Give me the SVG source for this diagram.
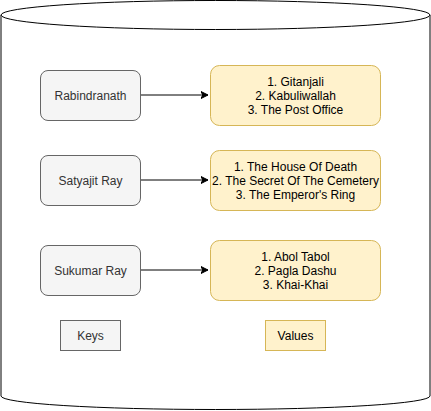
<svg xmlns="http://www.w3.org/2000/svg" width="431" height="411" viewBox="0 0 431 411">
<defs>
<style>
.cyl{fill:#fff;stroke:#000;stroke-width:1}
.key{fill:#f5f5f5;stroke:#666;stroke-width:1}
.val{fill:#fff2cc;stroke:#d6b656;stroke-width:1}
text{font-family:"Liberation Sans",Arial,sans-serif;font-size:12px;text-anchor:middle}
.kt{fill:#333}
.vt{fill:#000}
.edge{stroke:#000;stroke-width:1;fill:none}
</style>
<marker id="arr" markerWidth="10" markerHeight="10" refX="7" refY="4" orient="auto" markerUnits="userSpaceOnUse">
<path d="M0,0.5 L7,4 L0,7.5 L1.75,4 Z" fill="#000" stroke="#000" stroke-width="1"/>
</marker>
</defs>
<g id="cylinder">
<path class="cyl" d="M1,15 A214.5,14.5 0 0 1 430,15 L430,396 A214.5,13.5 0 0 1 1,396 Z"/>
<path class="cyl" fill="none" d="M1,15 A214.5,14.5 0 0 0 430,15"/>
</g>
<g id="connectors">
<path class="edge" d="M140,95 L208,95" marker-end="url(#arr)"/>
<path class="edge" d="M140,180 L208,180" marker-end="url(#arr)"/>
<path class="edge" d="M140,270 L208,270" marker-end="url(#arr)"/>
</g>
<g id="rabindranath">
<rect class="key" x="40.5" y="70.5" width="100" height="50" rx="7.5"/>
<text class="kt" x="90.5" y="99.5">Rabindranath</text>
</g>
<g id="rabindranath-values">
<rect class="val" x="210.5" y="65.5" width="170" height="60" rx="9"/>
<text class="vt" x="295.5" y="85.5">1. Gitanjali</text>
<text class="vt" x="295.5" y="99.5">2. Kabuliwallah</text>
<text class="vt" x="295.5" y="113.5">3. The Post Office</text>
</g>
<g id="satyajit">
<rect class="key" x="40.5" y="155.5" width="100" height="50" rx="7.5"/>
<text class="kt" x="90.5" y="184.5">Satyajit Ray</text>
</g>
<g id="satyajit-values">
<rect class="val" x="210.5" y="150.5" width="170" height="60" rx="9"/>
<text class="vt" x="295.5" y="170.5">1. The House Of Death</text>
<text class="vt" x="295.5" y="184.5">2. The Secret Of The Cemetery</text>
<text class="vt" x="295.5" y="198.5">3. The Emperor's Ring</text>
</g>
<g id="sukumar">
<rect class="key" x="40.5" y="245.5" width="100" height="50" rx="7.5"/>
<text class="kt" x="90.5" y="274.5">Sukumar Ray</text>
</g>
<g id="sukumar-values">
<rect class="val" x="210.5" y="240.5" width="170" height="60" rx="9"/>
<text class="vt" x="295.5" y="260.5">1. Abol Tabol</text>
<text class="vt" x="295.5" y="274.5">2. Pagla Dashu</text>
<text class="vt" x="295.5" y="288.5">3. Khai-Khai</text>
</g>
<g id="keys">
<rect class="key" x="60.5" y="320.5" width="60" height="30"/>
<text class="kt" x="90.5" y="339.5">Keys</text>
</g>
<g id="values">
<rect class="val" x="265.5" y="320.5" width="60" height="30"/>
<text class="vt" x="295.5" y="339.5">Values</text>
</g>
</svg>
